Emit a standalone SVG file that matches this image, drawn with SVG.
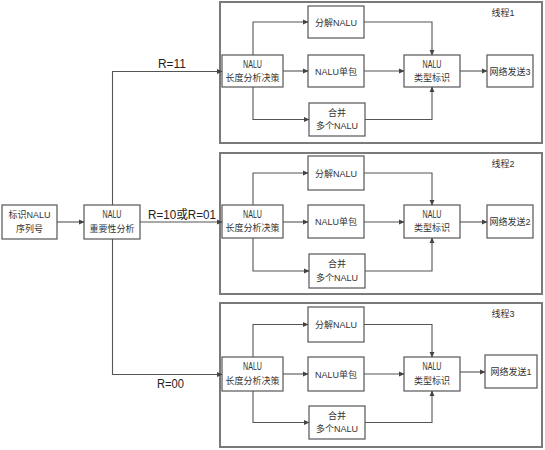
<svg xmlns="http://www.w3.org/2000/svg" width="545" height="450" viewBox="0 0 545 450">
<defs>
<marker id="ah" markerWidth="6" markerHeight="6" refX="5" refY="3" orient="auto" markerUnits="userSpaceOnUse">
<path d="M0,0.5 L5.5,3 L0,5.5 Z" fill="#444"/>
</marker>
<style>
.frame{fill:none;stroke:#7a7a7a;stroke-width:2}
.box{fill:#fff;stroke:#555;stroke-width:1.2}
.t{font-family:"Liberation Sans","Noto Sans CJK SC",sans-serif;font-size:9px;fill:#333;text-anchor:middle}
.n{font-family:"Liberation Sans","Noto Sans CJK SC",sans-serif;font-size:10px;fill:#333;text-anchor:middle}
.lbl{font-family:"Liberation Sans","Noto Sans CJK SC",sans-serif;font-size:12px;fill:#222}
.ca{fill:none;stroke:#555;stroke-width:1.1;marker-end:url(#ah)}
</style>
</defs>
<rect width="545" height="450" fill="#fff"/>

<g id="thread1">
<rect class="frame" x="220" y="2" width="322" height="141"/>
<text class="t" x="503" y="16">线程1</text>
<g id="t1-decide"><rect class="box" x="222" y="55" width="61" height="32"/><text class="n" x="252.5" y="68" textLength="19" lengthAdjust="spacingAndGlyphs">NALU</text><text class="t" x="252.5" y="81">长度分析决策</text></g>
<g id="t1-split"><rect class="box" x="308" y="6" width="56" height="32"/><text class="t" x="336" y="25.5">分解NALU</text></g>
<g id="t1-single"><rect class="box" x="308" y="55" width="56" height="32"/><text class="t" x="336" y="74.5">NALU单包</text></g>
<g id="t1-merge"><rect class="box" x="309" y="103" width="56" height="33"/><text class="t" x="337" y="116">合并</text><text class="t" x="337" y="129">多个NALU</text></g>
<g id="t1-type"><rect class="box" x="404" y="55" width="56" height="32"/><text class="n" x="432" y="68" textLength="19" lengthAdjust="spacingAndGlyphs">NALU</text><text class="t" x="432" y="81">类型标识</text></g>
<g id="t1-send"><rect class="box" x="487" y="55" width="46" height="32"/><text class="t" x="510" y="74.5">网络发送3</text></g>
</g>

<g id="thread2">
<rect class="frame" x="220" y="153" width="322" height="141"/>
<text class="t" x="503" y="167">线程2</text>
<g id="t2-decide"><rect class="box" x="222" y="205" width="61" height="33"/><text class="n" x="252.5" y="218" textLength="19" lengthAdjust="spacingAndGlyphs">NALU</text><text class="t" x="252.5" y="231">长度分析决策</text></g>
<g id="t2-split"><rect class="box" x="308" y="156" width="56" height="34"/><text class="t" x="336" y="176.5">分解NALU</text></g>
<g id="t2-single"><rect class="box" x="308" y="205" width="56" height="33"/><text class="t" x="336" y="225">NALU单包</text></g>
<g id="t2-merge"><rect class="box" x="309" y="254" width="56" height="34"/><text class="t" x="337" y="267">合并</text><text class="t" x="337" y="281">多个NALU</text></g>
<g id="t2-type"><rect class="box" x="404" y="205" width="56" height="33"/><text class="n" x="432" y="218" textLength="19" lengthAdjust="spacingAndGlyphs">NALU</text><text class="t" x="432" y="231">类型标识</text></g>
<g id="t2-send"><rect class="box" x="487" y="205" width="46" height="33"/><text class="t" x="510" y="225">网络发送2</text></g>
</g>

<g id="thread3">
<rect class="frame" x="220" y="303" width="322" height="144"/>
<text class="t" x="503" y="317">线程3</text>
<g id="t3-decide"><rect class="box" x="222" y="357" width="61" height="34"/><text class="n" x="252.5" y="370" textLength="19" lengthAdjust="spacingAndGlyphs">NALU</text><text class="t" x="252.5" y="384">长度分析决策</text></g>
<g id="t3-split"><rect class="box" x="308" y="307" width="56" height="35"/><text class="t" x="336" y="328">分解NALU</text></g>
<g id="t3-single"><rect class="box" x="308" y="357" width="56" height="34"/><text class="t" x="336" y="377.5">NALU单包</text></g>
<g id="t3-merge"><rect class="box" x="309" y="406" width="56" height="33"/><text class="t" x="337" y="419">合并</text><text class="t" x="337" y="432">多个NALU</text></g>
<g id="t3-type"><rect class="box" x="404" y="357" width="56" height="34"/><text class="n" x="432" y="370" textLength="19" lengthAdjust="spacingAndGlyphs">NALU</text><text class="t" x="432" y="384">类型标识</text></g>
<g id="t3-send"><rect class="box" x="485" y="355" width="52" height="33"/><text class="t" x="511" y="374.5">网络发送1</text></g>
</g>

<g id="mark"><rect class="box" x="2" y="205" width="55" height="34"/><text class="t" x="29.5" y="218">标识NALU</text><text class="t" x="29.5" y="232">序列号</text></g>
<g id="importance"><rect class="box" x="84" y="205" width="56" height="34"/><text class="n" x="112" y="218" textLength="19" lengthAdjust="spacingAndGlyphs">NALU</text><text class="t" x="112" y="232">重要性分析</text></g>

<g id="connectors">
<path class="ca" d="M57,222 H84"/>
<path class="ca" d="M140,222 H222"/>
<path class="ca" d="M112.5,205 V71.5 H222"/>
<path class="ca" d="M112.5,239 V374.5 H222"/>
<text class="lbl" x="158" y="68" textLength="28" lengthAdjust="spacingAndGlyphs">R=11</text>
<text class="lbl" x="148" y="219" textLength="68" lengthAdjust="spacingAndGlyphs">R=10或R=01</text>
<text class="lbl" x="157" y="388" textLength="27" lengthAdjust="spacingAndGlyphs">R=00</text>

<path class="ca" d="M253,55 V22 H308"/>
<path class="ca" d="M283,71 H308"/>
<path class="ca" d="M253,87 V119.5 H309"/>
<path class="ca" d="M364,22 H432 V55"/>
<path class="ca" d="M364,71 H404"/>
<path class="ca" d="M365,119.5 H432 V87"/>
<path class="ca" d="M460,71 H487"/>

<path class="ca" d="M253,205 V173 H308"/>
<path class="ca" d="M283,222 H308"/>
<path class="ca" d="M253,238 V271 H309"/>
<path class="ca" d="M364,173 H432 V205"/>
<path class="ca" d="M364,222 H404"/>
<path class="ca" d="M365,271 H432 V238"/>
<path class="ca" d="M460,222 H487"/>

<path class="ca" d="M253,357 V324.5 H308"/>
<path class="ca" d="M283,374 H308"/>
<path class="ca" d="M253,391 V422.5 H309"/>
<path class="ca" d="M364,324.5 H432 V357"/>
<path class="ca" d="M364,374 H404"/>
<path class="ca" d="M365,422.5 H432 V391"/>
<path class="ca" d="M460,372 H485"/>
</g>
</svg>
